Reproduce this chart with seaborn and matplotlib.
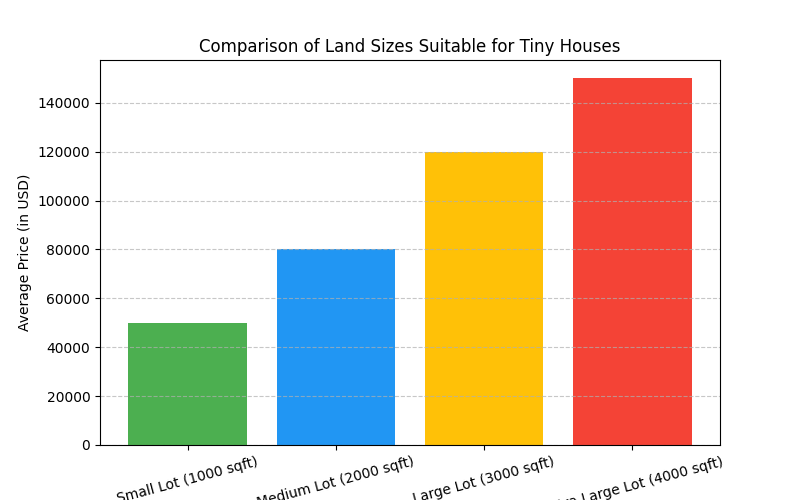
import matplotlib
matplotlib.use('Agg')
import matplotlib.pyplot as plt
import seaborn as sns
import pandas as pd

# Chart data
lot_sizes = ['Small Lot (1000 sqft)', 'Medium Lot (2000 sqft)',
             'Large Lot (3000 sqft)', 'Extra Large Lot (4000 sqft)']
avg_prices = [50000, 80000, 120000, 150000]
bar_colors = ['#4CAF50', '#2196F3', '#FFC107', '#F44336']

df = pd.DataFrame({'Lot Size': lot_sizes, 'Average Price': avg_prices})

fig, ax = plt.subplots(figsize=(8, 5), dpi=100)
sns.barplot(data=df, x='Lot Size', y='Average Price', hue='Lot Size',
            palette=bar_colors, saturation=1, width=0.8, linewidth=0,
            legend=False, ax=ax)

# match matplotlib's default margins around the bars
ax.set_xlim(-0.59, 3.59)
ax.set_ylim(0, 157500)

ax.set_title('Comparison of Land Sizes Suitable for Tiny Houses')
ax.set_xlabel('')
ax.set_ylabel('Average Price (in USD)')
ax.tick_params(axis='x', labelrotation=15)
ax.yaxis.grid(True, linestyle='--', alpha=0.7)

plt.savefig('out.png')
plt.close()
